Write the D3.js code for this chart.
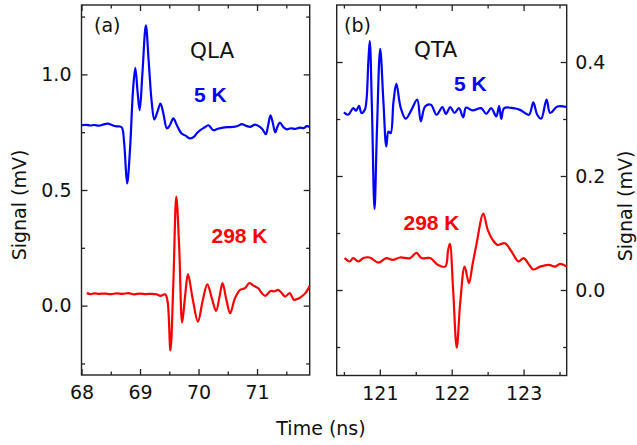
<!DOCTYPE html>
<html><head><meta charset="utf-8">
<script src="https://cdn.jsdelivr.net/npm/d3@7"></script>
<style>body{margin:0;background:#fff}svg{display:block}</style>
</head><body>
<svg id="c" width="637" height="445"></svg>
<script>
// Panel (a) QLA
const tA5 = [68.0,68.08,68.15,68.22,68.3,68.38,68.45,68.52,68.58,68.64,68.69,68.73,68.78,68.83,68.88,68.92,68.96,68.995,69.04,69.10,69.15,69.2,69.245,69.30,69.35,69.40,69.46,69.51,69.57,69.63,69.71,69.78,69.85,69.92,69.97,70.03,70.1,70.17,70.25,70.33,70.42,70.5,70.6,70.67,70.74,70.81,70.88,70.97,71.05,71.1,71.15,71.19,71.23,71.27,71.31,71.35,71.39,71.45,71.51,71.58,71.65,71.73,71.8,71.85,71.9];
const vA5 = [0.780,0.782,0.779,0.781,0.778,0.784,0.787,0.781,0.776,0.775,0.770,0.70,0.528,0.68,0.93,1.028,0.92,0.845,1.0,1.212,1.05,0.88,0.805,0.84,0.874,0.83,0.766,0.78,0.810,0.78,0.744,0.735,0.723,0.73,0.745,0.759,0.770,0.780,0.759,0.765,0.770,0.772,0.773,0.777,0.785,0.778,0.773,0.783,0.773,0.760,0.741,0.78,0.823,0.79,0.749,0.775,0.792,0.772,0.762,0.767,0.764,0.770,0.768,0.776,0.773];
const tA298 = [68.09,68.15,68.22,68.3,68.4,68.5,68.6,68.7,68.8,68.9,69.0,69.1,69.2,69.28,69.35,69.43,69.47,69.52,69.57,69.62,69.67,69.72,69.77,69.82,69.9,69.99,70.07,70.15,70.23,70.30,70.36,70.41,70.48,70.54,70.62,70.71,70.79,70.87,70.95,71.02,71.08,71.14,71.23,71.3,71.36,71.42,71.48,71.56,71.63,71.7,71.76,71.83,71.9];
const vA298 = [0.054,0.050,0.053,0.051,0.052,0.050,0.053,0.051,0.054,0.049,0.052,0.050,0.051,0.049,0.042,0.049,0.02,-0.194,0.10,0.471,0.25,-0.073,0.04,0.136,0.03,-0.069,0.02,0.092,0.03,-0.023,0.04,0.097,0.02,-0.033,0.03,0.068,0.075,0.097,0.085,0.075,0.055,0.042,0.063,0.062,0.068,0.055,0.039,0.054,0.025,0.030,0.039,0.055,0.086];

// Panel (b) QTA
const tB5 = [120.5,120.56,120.63,120.67,120.71,120.745,120.79,120.815,120.84,120.86,120.89,120.926,120.96,121.005,121.05,121.09,121.12,121.15,121.19,121.23,121.29,121.36,121.44,121.52,121.57,121.63,121.71,121.79,121.87,121.92,121.98,122.04,122.1,122.16,122.2,122.29,122.41,122.48,122.55,122.62,122.66,122.69,122.73,122.86,122.95,123.075,123.135,123.19,123.245,123.32,123.37,123.47,123.6];
const vB5 = [0.3116,0.3075,0.319,0.3146,0.323,0.3105,0.316,0.334,0.40,0.437,0.32,0.142,0.28,0.423,0.33,0.252,0.278,0.275,0.33,0.362,0.32,0.3005,0.316,0.334,0.296,0.322,0.325,0.3075,0.321,0.309,0.321,0.3105,0.319,0.303,0.320,0.315,0.319,0.309,0.319,0.3046,0.3225,0.300,0.319,0.319,0.316,0.3075,0.329,0.3075,0.3005,0.334,0.3105,0.322,0.321];
const tB298 = [120.51,120.58,120.63,120.70,120.77,120.86,120.98,121.09,121.18,121.28,121.42,121.51,121.58,121.70,121.81,121.91,121.95,121.975,122.02,122.07,122.12,122.18,122.24,122.29,122.34,122.44,122.50,122.57,122.64,122.74,122.83,122.93,123.0,123.08,123.135,123.23,123.35,123.44,123.51,123.6];
const vB298 = [0.056,0.050,0.056,0.050,0.056,0.057,0.048,0.056,0.053,0.057,0.056,0.065,0.056,0.056,0.044,0.041,0.07,0.081,0.0,-0.101,-0.02,0.041,0.012,0.045,0.077,0.134,0.106,0.088,0.079,0.082,0.068,0.050,0.056,0.044,0.036,0.041,0.044,0.041,0.046,0.041];

const xTicksA = [68,69,70,71], xMinorA = [68.5,69.5,70.5,71.5];
const yTicksA = [0,0.5,1.0], yMinorA = [-0.25,0.25,0.75,1.25];
const xTicksB = [121,122,123], xMinorB = [120.5,121.5,122.5,123.5];
const yTicksB = [0,0.2,0.4], yMinorB = [-0.1,0.1,0.3];

const svg = d3.select("#c");
const FONT = "DejaVu Sans, Verdana, sans-serif";
const BOLD = "Liberation Sans, Arial, sans-serif";
const BLUE = "#0000ff", RED = "#ff0000";

function panel(o){
  const x = d3.scaleLinear().domain(o.xd).range(o.xr);
  const y = d3.scaleLinear().domain(o.yd).range(o.yr);
  const g = svg.append("g");
  const [x0,x1] = o.xr, [y1,y0] = o.yr;
  const mk = (gen, tr, vals, size, pad, fmt) => {
    const a = g.append("g").attr("transform", tr)
      .call(gen.tickValues(vals).tickSize(size).tickSizeOuter(0).tickPadding(pad).tickFormat(fmt));
    a.select(".domain").remove();
    a.selectAll("line").attr("stroke","#222").attr("stroke-width",1.3);
    a.selectAll("text").attr("font-family",FONT).attr("font-size",19).attr("fill","#111");
    return a;
  };
  const none = () => "";
  mk(d3.axisBottom(x), `translate(0,${y1})`, o.xt, -6, 11, d3.format("d"));
  mk(d3.axisBottom(x), `translate(0,${y1})`, o.xm, -3.5, 11, none);
  mk(d3.axisTop(x), `translate(0,${y0})`, o.xt, -6, 3, none);
  mk(d3.axisTop(x), `translate(0,${y0})`, o.xm, -3.5, 3, none);
  mk(d3.axisLeft(y), `translate(${x0},0)`, o.yt, -6, 10, o.labelLeft ? d3.format(".1f") : none);
  mk(d3.axisLeft(y), `translate(${x0},0)`, o.ym, -3.5, 10, none);
  mk(d3.axisRight(y), `translate(${x1},0)`, o.yt, -6, 8.5, o.labelLeft ? none : d3.format(".1f"));
  mk(d3.axisRight(y), `translate(${x1},0)`, o.ym, -3.5, 8, none);
  g.append("rect").attr("x",x0).attr("y",y0).attr("width",x1-x0).attr("height",y1-y0)
    .attr("fill","none").attr("stroke","#222").attr("stroke-width",1.4);
  const line = d3.line().x(d=>x(d[0])).y(d=>y(d[1])).curve(d3.curveCatmullRom.alpha(0.5));
  o.series.forEach(s => {
    g.append("path").datum(d3.zip(s.t, s.v)).attr("d", line)
      .attr("fill","none").attr("stroke", s.c).attr("stroke-width",2.2).attr("stroke-linejoin","round");
  });
  return {x,y,g};
}

panel({xd:[68,71.9], xr:[81.5,309.7], yd:[-0.3,1.3], yr:[375,5],
  xt:xTicksA, xm:xMinorA, yt:yTicksA, ym:yMinorA, labelLeft:true,
  series:[{t:tA5,v:vA5,c:BLUE},{t:tA298,v:vA298,c:RED}]});
panel({xd:[120.4,123.6], xr:[336.7,566.7], yd:[-0.15,0.5], yr:[375.5,5],
  xt:xTicksB, xm:xMinorB, yt:yTicksB, ym:yMinorB, labelLeft:false,
  series:[{t:tB5,v:vB5,c:BLUE},{t:tB298,v:vB298,c:RED}]});

const txt = (x,y,s,opt={}) => svg.append("text").attr("x",x).attr("y",y).text(s)
  .attr("font-family",opt.f||FONT).attr("font-size",opt.s||19)
  .attr("font-weight",opt.w||"normal").attr("fill",opt.c||"#111")
  .attr("text-anchor",opt.a||"start");

txt(94,32,"(a)");
txt(190,58,"QLA",{s:21.5});
txt(194,101.5,"5 K",{f:BOLD,w:"bold",s:21,c:BLUE});
txt(211.5,243,"298 K",{f:BOLD,w:"bold",s:21,c:RED});
txt(344,32,"(b)");
txt(414,57,"QTA",{s:21.5});
txt(454,91,"5 K",{f:BOLD,w:"bold",s:21,c:BLUE});
txt(403.5,230,"298 K",{f:BOLD,w:"bold",s:21,c:RED});
txt(321,435,"Time (ns)",{a:"middle"});
svg.append("text").attr("transform","translate(26,205) rotate(-90)").attr("text-anchor","middle")
  .attr("font-family",FONT).attr("font-size",19).attr("fill","#111").text("Signal (mV)");
svg.append("text").attr("transform","translate(632,206) rotate(-90)").attr("text-anchor","middle")
  .attr("font-family",FONT).attr("font-size",19).attr("fill","#111").text("Signal (mV)");
</script>
</body></html>
